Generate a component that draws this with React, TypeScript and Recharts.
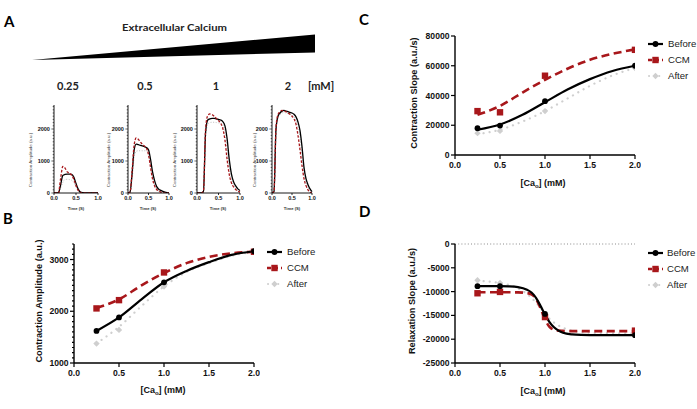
import { ComposedChart, LineChart, Line, XAxis, YAxis, ReferenceLine } from "recharts";

const SANS = "'Liberation Sans', Arial, sans-serif";
const TITLE_FONT = "Lato, 'Open Sans', sans-serif";
const RED = "#a8171b";
const GRAY = "#cfcfcf";

// ---- panel A: single-cell traces (amplitude, a.u.) vs time (s)
const TIME = [0, 0.05, 0.1, 0.15, 0.2, 0.25, 0.3, 0.35, 0.4, 0.45, 0.5, 0.55, 0.6, 0.65, 0.7, 0.75, 0.8, 0.85, 0.9, 0.95, 1.0];
const CONC_LABELS = ["0.25", "0.5", "1", "2"];

const T025_BEFORE = [0, 0, 0, 250, 550, 580, 590, 590, 580, 500, 300, 120, 30, 10, 5, 0, 0, 0, 0, 0, 0];
const T025_CCM = [0, 0, 0, 450, 830, 780, 660, 620, 560, 430, 230, 80, 20, 5, 0, 0, 0, 0, 0, 0, 0];
const T025_AFTER = [0, 0, 0, 150, 330, 420, 430, 420, 400, 330, 200, 80, 20, 5, 0, 0, 0, 0, 0, 0, 0];

const T05_BEFORE = [0, 30, 600, 1350, 1530, 1510, 1490, 1470, 1450, 1420, 1350, 1050, 650, 380, 200, 120, 80, 50, 30, 15, 5];
const T05_CCM = [0, 30, 700, 1500, 1720, 1680, 1600, 1520, 1470, 1400, 1200, 800, 430, 220, 110, 60, 30, 15, 5, 0, 0];
const T05_AFTER = [0, 20, 400, 1100, 1300, 1320, 1320, 1320, 1320, 1320, 1200, 900, 500, 250, 120, 60, 30, 15, 5, 0, 0];

const T1_BEFORE = [0, 0, 0, 50, 1900, 2280, 2320, 2330, 2330, 2320, 2300, 2280, 2230, 2100, 1700, 1050, 600, 350, 220, 130, 80];
const T1_CCM = [0, 0, 0, 50, 2000, 2420, 2470, 2450, 2400, 2330, 2260, 2180, 2020, 1650, 1050, 580, 320, 190, 110, 60, 30];
const T1_AFTER = [0, 0, 0, 40, 1700, 2150, 2200, 2210, 2210, 2200, 2190, 2170, 2150, 1900, 1400, 800, 450, 250, 150, 80, 40];

const T2_BEFORE = [0, 50, 2000, 2400, 2500, 2560, 2580, 2560, 2540, 2520, 2500, 2460, 2380, 2220, 1950, 1450, 800, 450, 260, 130, 40];
const T2_CCM = [0, 50, 2050, 2450, 2540, 2580, 2570, 2540, 2500, 2460, 2400, 2320, 2150, 1800, 1350, 850, 450, 230, 100, 30, 0];
const T2_AFTER = [0, 40, 1950, 2350, 2450, 2500, 2520, 2500, 2480, 2460, 2430, 2380, 2280, 2080, 1750, 1200, 650, 350, 180, 80, 20];

const TRACE_SETS = [
  [T025_BEFORE, T025_CCM, T025_AFTER],
  [T05_BEFORE, T05_CCM, T05_AFTER],
  [T1_BEFORE, T1_CCM, T1_AFTER],
  [T2_BEFORE, T2_CCM, T2_AFTER],
];
const SMALL_Y_TICKS = Array.from({ length: 28 }, (_, i) => i * 100);

// ---- panels B-D: measured points and fitted curves vs [Ca]o (mM)
const CA_PTS = [0.25, 0.5, 1, 2];
const FIT_X = [0.25, 0.5, 0.75, 1, 1.25, 1.5, 1.75, 2];
const FIT_X_D = [0.25, 0.5, 0.6, 0.7, 0.8, 0.85, 0.9, 0.95, 1, 1.05, 1.1, 1.15, 1.2, 1.3, 1.4, 1.6, 2];

const AMP_BEFORE = [1620, 1880, 2560, 3160];
const AMP_CCM = [2055, 2215, 2750, 3150];
const AMP_AFTER = [1375, 1640, 2480, 3150];
const AMP_FIT_BEFORE = [1620, 1880, 2230, 2560, 2780, 2950, 3090, 3160];
const AMP_FIT_CCM = [2060, 2230, 2500, 2740, 2930, 3050, 3120, 3150];
const AMP_FIT_AFTER = [1380, 1700, 2100, 2480, 2760, 2930, 3070, 3150];

const CSL_BEFORE = [18000, 19800, 36200, 60000];
const CSL_CCM = [29500, 28700, 53300, 70700];
const CSL_AFTER = [14700, 16200, 29500, 58500];
const CSL_FIT_BEFORE = [17000, 20500, 27000, 35500, 44000, 51000, 56500, 60000];
const CSL_FIT_CCM = [27000, 33000, 42000, 50500, 58000, 64000, 68000, 71000];
const CSL_FIT_AFTER = [14000, 17000, 22500, 29500, 38000, 46500, 53500, 58500];

const RSL_BEFORE = [-8850, -8850, -14700, -19150];
const RSL_CCM = [-10350, -10070, -15350, -18200];
const RSL_AFTER = [-7600, -8200, -15000, -18800];
const RSL_FIT_BEFORE = [-8850, -8860, -8900, -9050, -9600, -10200, -11300, -13000, -14800, -16400, -17500, -18200, -18650, -19000, -19100, -19150, -19150];
const RSL_FIT_CCM = [-10150, -10150, -10150, -10170, -10300, -10600, -11500, -13500, -15800, -17400, -18000, -18200, -18250, -18300, -18300, -18300, -18300];
const RSL_FIT_AFTER = [-7700, -8200, -8600, -9300, -10500, -11300, -12300, -13400, -14600, -15700, -16500, -17100, -17600, -18200, -18500, -18700, -18800];

const CA_TICKS = [0, 0.5, 1, 1.5, 2];
const AMP_TICKS = Array.from({ length: 24 }, (_, i) => 1000 + i * 100);
const CSL_TICKS = [0, 20000, 40000, 60000, 80000];
const RSL_TICKS = [-25000, -20000, -15000, -10000, -5000, 0];

const zip = (xs: number[], ys: number[]) => xs.map((x, i) => ({ x, y: ys[i] }));

function yTick(major: (v: number) => boolean, fs: number, len: number, minorLen: number, sw: number) {
  return (p: any) => {
    const v = p.payload.value;
    const isMajor = major(v);
    const l = isMajor ? len : minorLen;
    return (
      <g key={`yt-${v}`}>
        <line x1={p.x - l} x2={p.x} y1={p.y} y2={p.y} stroke="#000" strokeWidth={sw} />
        {isMajor && (
          <text x={p.x - l - 1.5} y={p.y} dy="0.36em" textAnchor="end" fontSize={fs} fontWeight={700} fontFamily={SANS} fill="#111">
            {v}
          </text>
        )}
      </g>
    );
  };
}

function xTick(fs: number, len: number, gap: number, sw: number) {
  return (p: any) => {
    const v = p.payload.value;
    return (
      <g key={`xt-${v}`}>
        <line x1={p.x} x2={p.x} y1={p.y} y2={p.y + len} stroke="#000" strokeWidth={sw} />
        <text x={p.x} y={p.y + len + gap} dy="0.72em" textAnchor="middle" fontSize={fs} fontWeight={700} fontFamily={SANS} fill="#111">
          {Number(v).toFixed(1)}
        </text>
      </g>
    );
  };
}

const CircleDot = (p: any) => <circle key={`c-${p.index}`} cx={p.cx} cy={p.cy} r={2.9} fill="#000" />;
const SquareDot = (p: any) => <rect key={`s-${p.index}`} x={p.cx - 3.2} y={p.cy - 3.2} width={6.4} height={6.4} fill={RED} />;
const DiamondDot = (p: any) => (
  <path key={`d-${p.index}`} d={`M${p.cx},${p.cy - 3.2}L${p.cx + 3.2},${p.cy}L${p.cx},${p.cy + 3.2}L${p.cx - 3.2},${p.cy}Z`} fill={GRAY} />
);

function SmallTrace({ idx, left, width }: { idx: number; left: number; width: number }) {
  const [b, c, a] = TRACE_SETS[idx];
  const rows = TIME.map((t, i) => ({ t, before: b[i], ccm: c[i], after: a[i] }));
  return (
    <div style={{ position: "absolute", left, top: 90 }}>
      <LineChart width={width} height={123} data={rows} margin={{ top: 15, right: 7, bottom: 0, left: 0 }}>
        <XAxis dataKey="t" type="number" domain={[0, 1]} ticks={[0, 0.5, 1]} interval={0} height={20}
          tickSize={0} tickMargin={0} tickLine={false} tick={xTick(5.5, 2, 1.2, 0.8)}
          axisLine={{ stroke: "#000", strokeWidth: 0.9 }} />
        <YAxis type="number" domain={[0, 2750]} ticks={SMALL_Y_TICKS} interval={0} width={30}
          tickSize={0} tickMargin={0} tickLine={false} tick={yTick(v => v % 1000 === 0, 5.5, 2.6, 1.3, 0.6)}
          axisLine={{ stroke: "#000", strokeWidth: 0.9 }} allowDataOverflow />
        <Line dataKey="after" type="monotone" stroke="#bdbdbd" strokeWidth={1} strokeDasharray="1 1.6" dot={false} activeDot={false} isAnimationActive={false} />
        <Line dataKey="before" type="monotone" stroke="#000" strokeWidth={1.3} dot={false} activeDot={false} isAnimationActive={false} />
        <Line dataKey="ccm" type="monotone" stroke={RED} strokeWidth={1.3} strokeDasharray="2.6 1.6" dot={false} activeDot={false} isAnimationActive={false} />
      </LineChart>
    </div>
  );
}

type BigProps = {
  left: number; top: number; yw: number; width: number;
  domain: [number, number]; ticks: number[]; major: (v: number) => boolean;
  fitX: number[]; fits: number[][]; pts: number[][]; zeroLine?: boolean;
};

function BigPanel({ left, top, yw, width, domain, ticks, major, fitX, fits, pts, zeroLine }: BigProps) {
  const [fb, fc, fa] = fits;
  const [pb, pc, pa] = pts;
  return (
    <div style={{ position: "absolute", left, top }}>
      <ComposedChart width={width} height={168} margin={{ top: 14, right: 6, bottom: 5, left: 0 }}>
        <XAxis dataKey="x" type="number" domain={[0, 2]} ticks={CA_TICKS} interval={0} height={30}
          tickSize={0} tickMargin={0} tickLine={false} tick={xTick(8.6, 4, 2.6, 1.2)}
          axisLine={{ stroke: "#000", strokeWidth: 1.4 }} allowDataOverflow />
        <YAxis dataKey="y" type="number" domain={domain} ticks={ticks} interval={0} width={yw}
          tickSize={0} tickMargin={0} tickLine={false} tick={yTick(major, 8.6, 4, 2, 1.2)}
          axisLine={{ stroke: "#000", strokeWidth: 1.4 }} allowDataOverflow />
        {zeroLine && <ReferenceLine y={0} stroke="#8a8a8a" strokeWidth={1} strokeDasharray="1 2.2" segment={[{ x: 0, y: 0 }, { x: 1.97, y: 0 }]} />}
        <Line data={zip(fitX, fa)} dataKey="y" type="monotone" stroke={GRAY} strokeWidth={2.2} strokeDasharray="0.1 6" strokeLinecap="round" dot={false} activeDot={false} isAnimationActive={false} />
        <Line data={zip(CA_PTS, pa)} dataKey="y" stroke="none" dot={DiamondDot} activeDot={false} isAnimationActive={false} />
        <Line data={zip(fitX, fc)} dataKey="y" type="monotone" stroke={RED} strokeWidth={2.6} strokeDasharray="8 4.5" dot={false} activeDot={false} isAnimationActive={false} />
        <Line data={zip(CA_PTS, pc)} dataKey="y" stroke="none" dot={SquareDot} activeDot={false} isAnimationActive={false} />
        <Line data={zip(fitX, fb)} dataKey="y" type="monotone" stroke="#000" strokeWidth={2.2} dot={false} activeDot={false} isAnimationActive={false} />
        <Line data={zip(CA_PTS, pb)} dataKey="y" stroke="none" dot={CircleDot} activeDot={false} isAnimationActive={false} />
      </ComposedChart>
    </div>
  );
}

function Legend({ x, y, tx }: { x: number; y: number; tx: number }) {
  const cx = x + 7.5;
  const rows = [
    { label: "Before", dy: 0 },
    { label: "CCM", dy: 16 },
    { label: "After", dy: 32 },
  ];
  return (
    <g>
      <line x1={x} x2={x + 15} y1={y} y2={y} stroke="#000" strokeWidth={2.2} />
      <circle cx={cx} cy={y} r={2.9} fill="#000" />
      <line x1={x} x2={x + 15} y1={y + 16} y2={y + 16} stroke={RED} strokeWidth={2.6} strokeDasharray="4 3" />
      <rect x={cx - 3.2} y={y + 16 - 3.2} width={6.4} height={6.4} fill={RED} />
      <line x1={x + 1} x2={x + 15} y1={y + 32} y2={y + 32} stroke={GRAY} strokeWidth={2} strokeDasharray="0.1 5" strokeLinecap="round" />
      <path d={`M${cx},${y + 32 - 3.2}L${cx + 3.2},${y + 32}L${cx},${y + 32 + 3.2}L${cx - 3.2},${y + 32}Z`} fill={GRAY} />
      {rows.map(r => (
        <text key={r.label} x={tx} y={y + r.dy} dy="0.36em" fontSize={9.6} fontFamily={SANS} fill="#222">{r.label}</text>
      ))}
    </g>
  );
}

function CaTitle({ x, y }: { x: number; y: number }) {
  return (
    <text x={x} y={y} textAnchor="middle" fontSize={9} fontWeight={700} fontFamily={SANS} fill="#111">
      [Ca<tspan fontSize={6} dy={2}>o</tspan><tspan dy={-2}>] (mM)</tspan>
    </text>
  );
}

export default function App() {
  const smallLeft = [24, 98, 167, 242];
  const smallWidth = [81, 78, 80, 77];
  const smallTitleX = [32, 110, 176, 256];
  const timeX = [76, 148, 218, 292];
  const concX = [68, 145, 216, 288];
  return (
    <div style={{ position: "absolute", left: 0, top: 0, width: 697, height: 409, background: "#fff", overflow: "hidden" }}>
      {smallLeft.map((l, i) => <SmallTrace key={i} idx={i} left={l} width={smallWidth[i]} />)}

      <BigPanel left={0} top={230} yw={74} width={260} domain={[1000, 3300]} ticks={AMP_TICKS}
        major={v => v % 1000 === 0} fitX={FIT_X}
        fits={[AMP_FIT_BEFORE, AMP_FIT_CCM, AMP_FIT_AFTER]} pts={[AMP_BEFORE, AMP_CCM, AMP_AFTER]} />
      <BigPanel left={345} top={22} yw={110} width={296} domain={[0, 80000]} ticks={CSL_TICKS}
        major={() => true} fitX={FIT_X}
        fits={[CSL_FIT_BEFORE, CSL_FIT_CCM, CSL_FIT_AFTER]} pts={[CSL_BEFORE, CSL_CCM, CSL_AFTER]} />
      <BigPanel left={345} top={230} yw={110} width={296} domain={[-25000, 0]} ticks={RSL_TICKS}
        major={() => true} fitX={FIT_X_D} zeroLine
        fits={[RSL_FIT_BEFORE, RSL_FIT_CCM, RSL_FIT_AFTER]} pts={[RSL_BEFORE, RSL_CCM, RSL_AFTER]} />

      <svg width={697} height={409} style={{ position: "absolute", left: 0, top: 0, pointerEvents: "none" }}>
        <text x={4} y={27} fontSize={15} fontWeight={700} fontFamily={TITLE_FONT}>A</text>
        <text x={3} y={224} fontSize={15} fontWeight={700} fontFamily={TITLE_FONT}>B</text>
        <text x={359} y={25} fontSize={15} fontWeight={700} fontFamily={TITLE_FONT}>C</text>
        <text x={359} y={217} fontSize={15} fontWeight={700} fontFamily={TITLE_FONT}>D</text>

        <text x={122} y={31} fontSize={10} fontWeight={700} fontFamily={TITLE_FONT} textLength={105} lengthAdjust="spacingAndGlyphs" fill="#222">
          Extracellular  Calcium
        </text>
        <polygon points="32,60 315,34.5 315,52.5" fill="#000" />
        {CONC_LABELS.map((c, i) => (
          <text key={c} x={concX[i]} y={90} textAnchor="middle" fontSize={11} fontWeight={700} fontFamily={TITLE_FONT} fill="#222">{c}</text>
        ))}
        <text x={308} y={90} fontSize={11} fontWeight={700} fontFamily={TITLE_FONT} fill="#222">[mM]</text>

        {smallTitleX.map((x, i) => (
          <text key={`st${i}`} transform={`translate(${x},160) rotate(-90)`} textAnchor="middle" fontSize={4.4} fontFamily={SANS} fill="#444">
            Contraction Amplitude (a.u.)
          </text>
        ))}
        {timeX.map((x, i) => (
          <text key={`tt${i}`} x={x} y={209.5} textAnchor="middle" fontSize={4.2} fontWeight={700} fontFamily={SANS} fill="#333">Time (S)</text>
        ))}

        <text transform="translate(42,301) rotate(-90)" textAnchor="middle" fontSize={9.2} fontWeight={700} fontFamily={SANS} fill="#111">
          Contraction Amplitude (a.u.)
        </text>
        <CaTitle x={163} y={393} />
        <Legend x={267} y={252} tx={287} />

        <text transform="translate(416.5,93) rotate(-90)" textAnchor="middle" fontSize={9.2} fontWeight={700} fontFamily={SANS} fill="#111">
          Contraction Slope (a.u./s)
        </text>
        <CaTitle x={543} y={186} />
        <Legend x={648} y={44} tx={668} />

        <text transform="translate(414.5,301) rotate(-90)" textAnchor="middle" fontSize={9.2} fontWeight={700} fontFamily={SANS} fill="#111">
          Relaxation Slope (a.u./s)
        </text>
        <CaTitle x={543} y={394} />
        <Legend x={648} y={253} tx={667} />
      </svg>
    </div>
  );
}
